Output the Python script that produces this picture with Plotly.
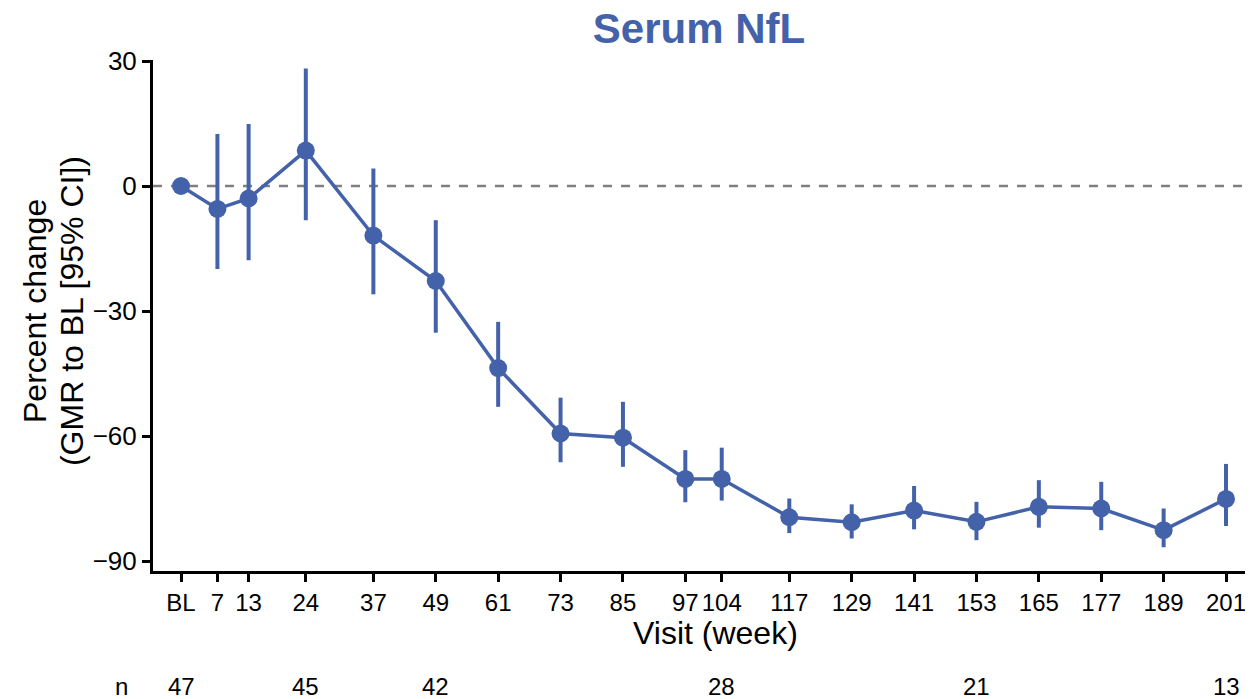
import plotly.graph_objects as go

weeks = [0, 7, 13, 24, 37, 49, 61, 73, 85, 97, 104, 117, 129, 141, 153, 165, 177, 189, 201]
tick_labels = ["BL", "7", "13", "24", "37", "49", "61", "73", "85", "97", "104",
               "117", "129", "141", "153", "165", "177", "189", "201"]
pct_change = [0.0, -5.5, -3.0, 8.5, -11.9, -22.8, -43.7, -59.4, -60.4, -70.3, -70.3,
              -79.5, -80.7, -77.9, -80.6, -77.0, -77.4, -82.6, -75.1]
ci_upper = [0.0, 12.5, 14.9, 28.2, 4.2, -8.2, -32.6, -50.8, -51.8, -63.4, -62.8,
            -75.0, -76.4, -72.0, -75.8, -70.6, -71.0, -77.4, -66.7]
ci_lower = [0.0, -19.9, -17.8, -8.2, -26.0, -35.2, -53.0, -66.3, -67.4, -75.9, -75.5,
            -83.3, -84.6, -82.4, -85.0, -82.0, -82.6, -86.7, -81.6]

n_weeks = [0, 24, 49, 104, 153, 201]
n_values = ["47", "45", "42", "28", "21", "13"]

blue = "#4462A9"
font_family = "Liberation Sans, Arial, sans-serif"

err_plus = [u - v for u, v in zip(ci_upper, pct_change)]
err_minus = [v - l for v, l in zip(pct_change, ci_lower)]

fig = go.Figure()
fig.add_hline(y=0, line=dict(color="#808080", width=2.5, dash="dash"), layer="below")
fig.add_trace(go.Scatter(
    x=weeks, y=pct_change, mode="lines+markers",
    line=dict(color=blue, width=3.5),
    marker=dict(color=blue, size=18),
    error_y=dict(type="data", symmetric=False, array=err_plus, arrayminus=err_minus,
                 color=blue, thickness=4, width=0),
    showlegend=False, cliponaxis=False,
))

txt = dict(color="black", family=font_family)
annotations = [
    dict(x=0.5118, y=-0.1213, xref="paper", yref="paper", text="Visit (week)",
         showarrow=False, font=dict(size=32, **txt), xanchor="center", yanchor="middle"),
    dict(x=-0.1073, y=0.5088, xref="paper", yref="paper", text="Percent change",
         textangle=-90, showarrow=False, font=dict(size=32, **txt),
         xanchor="center", yanchor="middle"),
    dict(x=-0.0736, y=0.5088, xref="paper", yref="paper", text="(GMR to BL [95% CI])",
         textangle=-90, showarrow=False, font=dict(size=32, **txt),
         xanchor="center", yanchor="middle"),
    dict(x=-0.029, y=-0.227, xref="paper", yref="paper", text="n",
         showarrow=False, font=dict(size=24, **txt), xanchor="center", yanchor="middle"),
]
for w, n in zip(n_weeks, n_values):
    annotations.append(dict(x=w, y=-0.227, xref="x", yref="paper", text=n, showarrow=False,
                            font=dict(size=24, **txt), xanchor="center", yanchor="middle"))

fig.update_layout(
    width=1245, height=691,
    margin=dict(l=145, r=0, t=52, b=128, pad=0),
    paper_bgcolor="white", plot_bgcolor="white",
    font=dict(family=font_family, color="black", size=24),
    title=dict(text="<b>Serum NfL</b>", x=0.555, xanchor="center", y=0.97, yanchor="middle",
               font=dict(size=42, color=blue, family=font_family)),
    xaxis=dict(range=[-5.39, 206.19], tickvals=weeks, ticktext=tick_labels,
               showline=True, linecolor="black", linewidth=3, ticks="outside",
               ticklen=8, tickwidth=3, tickcolor="black", showgrid=False, zeroline=False,
               tickfont=dict(size=24), tickangle=0),
    yaxis=dict(range=[-92.4, 30.24], tickvals=[30, 0, -30, -60, -90],
               ticktext=["30", "0", "\u221230", "\u221260", "\u221290"],
               showline=True, linecolor="black", linewidth=3, ticks="outside",
               ticklen=8, tickwidth=3, tickcolor="black", showgrid=False, zeroline=False,
               tickfont=dict(size=26)),
    annotations=annotations,
)

fig.write_html("out.html")
